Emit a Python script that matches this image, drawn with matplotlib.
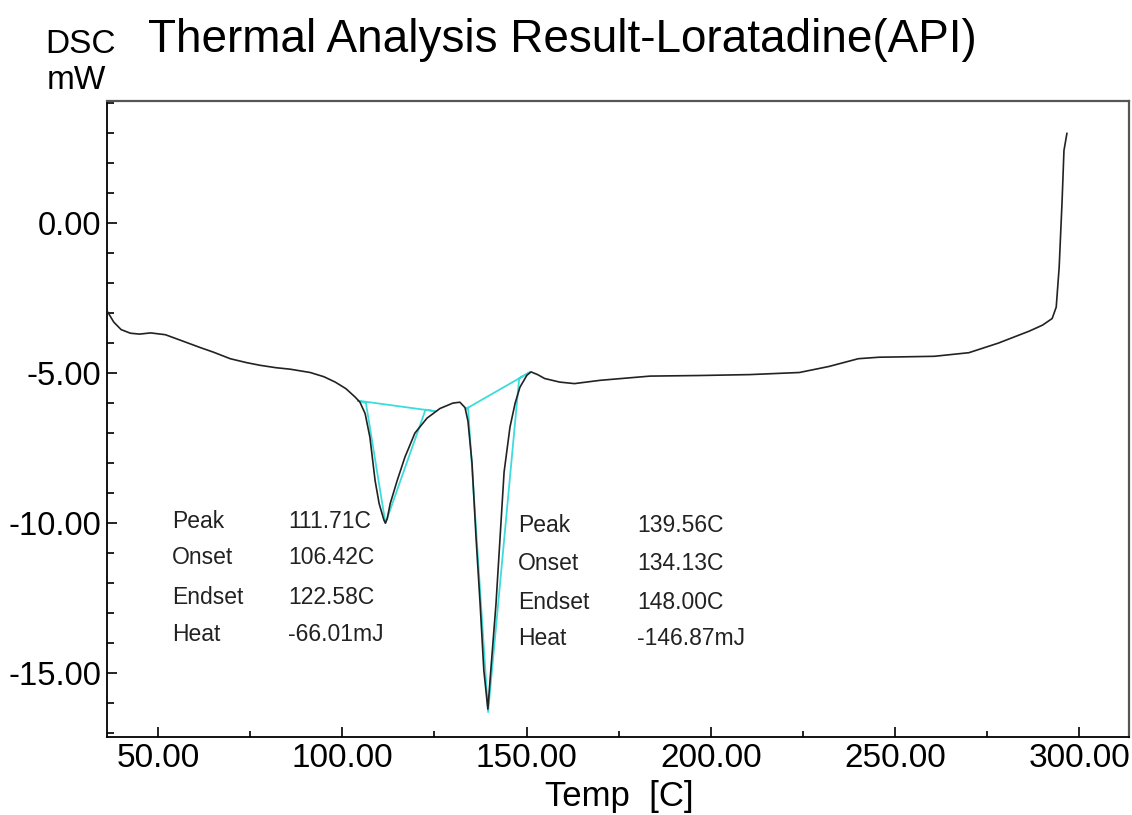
import matplotlib
matplotlib.use("Agg")
import matplotlib.pyplot as plt
from matplotlib.ticker import MultipleLocator, FormatStrFormatter

plt.rcParams['font.family'] = ['Liberation Sans', 'DejaVu Sans']

# DSC curve (Temp [C], DSC [mW])
temp = [36.3, 38, 40, 42.5, 45, 48, 52, 56, 61.5, 65, 69.6, 74, 77.7, 82, 85.9,
        91.3, 95, 98.1, 101, 103.5, 104.8, 106.2, 107.5, 108.9, 110, 111.3, 111.7,
        112.2, 113, 114.9, 117, 119.7, 123, 126.5, 130, 131.9, 133.3, 134.1, 135.2,
        136.3, 137.4, 138.4, 139.5, 140.3, 141.7, 142.8, 143.9, 145.5, 146.9, 148.2,
        150.1, 151.2, 153, 154.9, 159, 163, 170, 183.5, 197, 210.5, 224, 232, 240,
        245.7, 251.2, 260.6, 270, 278, 286.4, 290, 292.6, 293.7, 294.5, 295.3,
        295.8, 296.6]
dsc = [-2.95, -3.3, -3.55, -3.67, -3.70, -3.66, -3.72, -3.9, -4.15, -4.3, -4.52,
       -4.65, -4.74, -4.82, -4.87, -4.98, -5.12, -5.3, -5.52, -5.8, -5.97, -6.35,
       -7.14, -8.58, -9.35, -9.9, -10.0, -9.85, -9.35, -8.58, -7.8, -7.0, -6.5,
       -6.18, -6.0, -5.97, -6.15, -6.6, -8.0, -10.5, -12.7, -14.9, -16.2, -14.9,
       -12.7, -10.5, -8.3, -6.8, -6.0, -5.47, -5.07, -4.96, -5.05, -5.18, -5.3,
       -5.35, -5.24, -5.1, -5.08, -5.05, -4.98, -4.78, -4.52, -4.47, -4.46, -4.44,
       -4.32, -4.0, -3.6, -3.4, -3.18, -2.8, -1.47, 0.76, 2.42, 2.99]

# Analysis construction lines (baseline + tangents), peak 1 and peak 2
peak1_x = [104.3, 106.42, 111.71, 122.58, 125.2, 104.3]
peak1_y = [-5.92, -6.0, -10.0, -6.22, -6.27, -5.92]
peak2_x = [133.6, 134.13, 139.56, 148.0, 150.9, 133.6]
peak2_y = [-6.19, -6.15, -16.3, -5.17, -4.97, -6.19]

labels = ["Peak", "Onset", "Endset", "Heat"]
values1 = ["111.71C", "106.42C", "122.58C", "-66.01mJ"]
values2 = ["139.56C", "134.13C", "148.00C", "-146.87mJ"]

xticks = [50, 100, 150, 200, 250, 300]
yticks = [-15, -10, -5, 0]

fig = plt.figure(figsize=(11.32, 8.15), dpi=100)
ax = fig.add_axes([0.0945, 0.0957, 0.9027, 0.7800])

ax.plot(peak1_x, peak1_y, color='#3CDCDC', lw=1.3, zorder=2)
ax.plot(peak2_x, peak2_y, color='#3CDCDC', lw=1.3, zorder=2)
ax.plot(temp, dsc, color='#222222', lw=1.2, zorder=3)

ax.set_xlim(36.16, 313.4)
ax.set_ylim(-17.13, 4.06)
ax.set_xticks(xticks)
ax.set_yticks(yticks)
ax.xaxis.set_major_formatter(FormatStrFormatter('%.2f'))
ax.yaxis.set_major_formatter(FormatStrFormatter('%.2f'))
ax.xaxis.set_minor_locator(MultipleLocator(25))
ax.yaxis.set_minor_locator(MultipleLocator(1))
ax.tick_params(axis='x', which='major', direction='in', length=7.5, width=1.2,
               labelsize=24, pad=4, colors='black')
ax.tick_params(axis='x', which='minor', direction='in', length=4, width=1.2)
ax.tick_params(axis='y', which='major', direction='in', length=7.5, width=1.2,
               labelsize=23.5, pad=4, colors='black')
ax.tick_params(axis='y', which='minor', direction='in', length=5, width=1.2)

for s in ['left', 'bottom']:
    ax.spines[s].set_color('black')
    ax.spines[s].set_linewidth(1.3)
for s in ['top', 'right']:
    ax.spines[s].set_color('#555555')
    ax.spines[s].set_linewidth(1.6)

row_y1 = [-9.95, -11.15, -12.48, -13.71]
row_y2 = [-10.08, -11.34, -12.64, -13.84]
for lab, val, yy in zip(labels, values1, row_y1):
    ax.text(53.9, yy, lab, fontsize=16.5, color='#222222', va='center', ha='left')
    ax.text(85.3, yy, val, fontsize=16.5, color='#222222', va='center', ha='left')
for lab, val, yy in zip(labels, values2, row_y2):
    ax.text(147.7, yy, lab, fontsize=16.5, color='#222222', va='center', ha='left')
    ax.text(179.9, yy, val, fontsize=16.5, color='#222222', va='center', ha='left')

fig.text(0.1307, 0.951, "Thermal Analysis Result-Loratadine(API)", fontsize=33,
         ha='left', va='center', color='black')
fig.text(0.0398, 0.9448, "DSC", fontsize=24, ha='left', va='center')
fig.text(0.0415, 0.9018, "mW", fontsize=24, ha='left', va='center')
fig.text(0.5468, 0.0221, "Temp  [C]", fontsize=25, ha='center', va='center')

fig.savefig("out.png", dpi=100, facecolor='white')
